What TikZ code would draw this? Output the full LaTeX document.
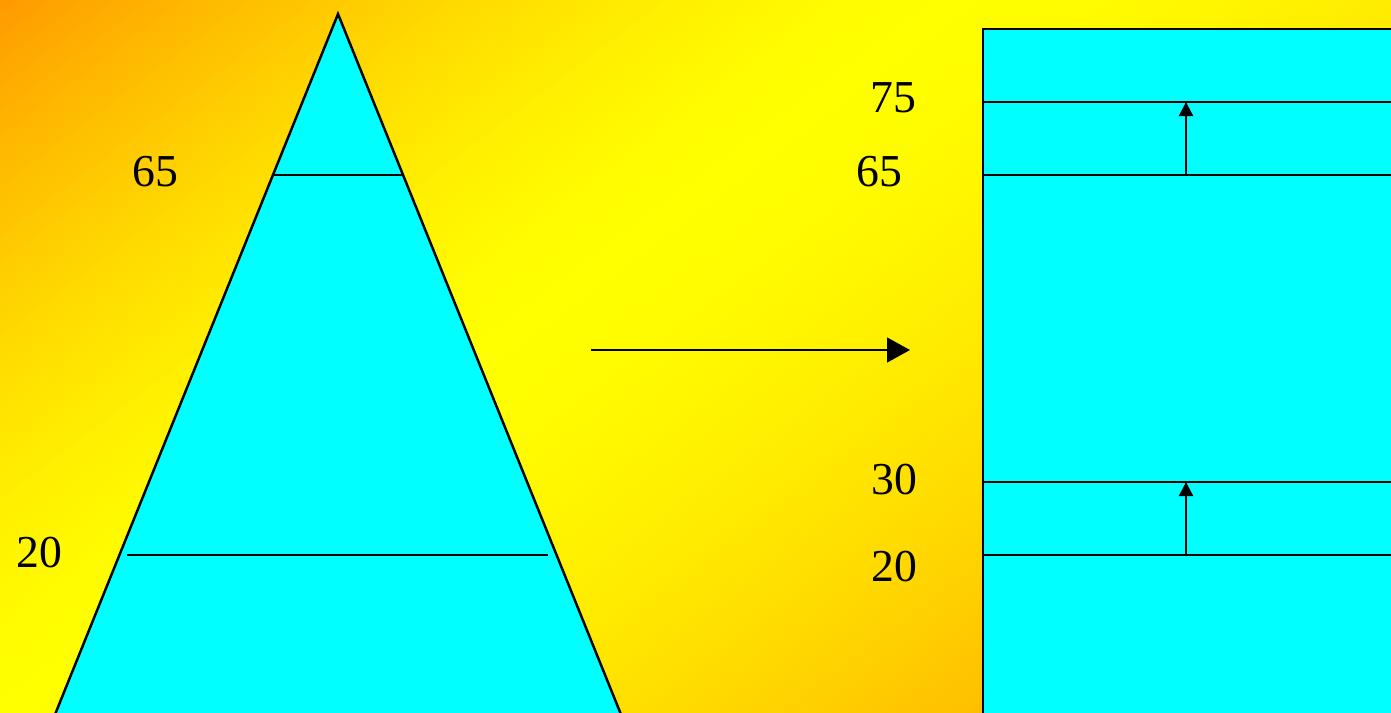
\documentclass[tikz,border=0pt]{standalone}
\usepackage{fontspec}
\setmainfont{Liberation Serif}
\usetikzlibrary{arrows.meta, positioning}
\definecolor{bgOrangeA}{RGB}{255,155,0}
\definecolor{bgOrangeB}{RGB}{255,190,0}
\definecolor{bgYellow}{RGB}{255,255,0}
\definecolor{layerCyan}{RGB}{0,255,255}

\begin{document}
\begin{tikzpicture}[
    x=0.1mm, y=-0.1mm,
    body/.style={fill=layerCyan, draw=black, line width=0.7pt},
    level/.style={draw=black, line width=0.6pt},
    lift/.style={-{Triangle[length=4pt, width=4pt]}, line width=0.6pt},
    shiftarr/.style={-{Triangle[length=6.5pt, width=7pt]}, line width=0.6pt},
    lbl/.style={font=\fontsize{13}{15}\selectfont, inner sep=0pt},
]
\useasboundingbox (0,0) rectangle (1391,712);
\begin{scope}
\clip (0,0) rectangle (1391,712);

% Background gradient (orange - yellow - orange, diagonal bands)
\fill[bgYellow] (0,0) rectangle (1391,712);
\foreach \s in {-600,-590,...,850} {
  \pgfmathsetmacro\frc{\s<0 ? min(1,abs(\s)/570) : min(1,abs(\s)/588)}
  \pgfmathsetmacro\mix{max(0,100-100*\frc*sqrt(\frc))}
  \pgfmathsetmacro\ya{719.5+1.25*\s}
  \pgfmathsetmacro\yb{719.5+1.25*(\s+11)}
  \ifdim\s pt<0pt
    \fill[bgYellow!\mix!bgOrangeA] (-10,\ya) -- (1400,\ya-1057.5) -- (1400,\yb-1057.5) -- (-10,\yb) -- cycle;
  \else
    \fill[bgYellow!\mix!bgOrangeB] (-10,\ya) -- (1400,\ya-1057.5) -- (1400,\yb-1057.5) -- (-10,\yb) -- cycle;
  \fi
}

% Pyramid
\coordinate (apex) at (338,14);
\coordinate (baseL) at (44.7,740);
\coordinate (baseR) at (631.3,740);
\filldraw[body] (apex) -- (baseL) -- (baseR) -- cycle;
\coordinate (p65l) at (273,175);
\coordinate (p65r) at (402,175);
\coordinate (p20l) at (127,555);
\coordinate (p20r) at (548,555);
\draw[level] (p65l) -- (p65r);
\draw[level] (p20l) -- (p20r);

% Column
\coordinate (colTL) at (983,29);
\coordinate (colBR) at (1420,740);
\filldraw[body] (colTL) rectangle (colBR);
\foreach \y/\name in {102/c75, 175/c65, 482/c30, 555/c20} {
  \coordinate (\name l) at (983,\y);
  \coordinate (\name r) at (1420,\y);
  \draw[level] (\name l) -- (\name r);
}
\coordinate (up65) at (1186,175);
\coordinate (up75) at (1186,102);
\coordinate (up20) at (1186,555);
\coordinate (up30) at (1186,482);
\draw[lift] (up65) -- (up75);
\draw[lift] (up20) -- (up30);

% Shift arrow
\coordinate (shiftA) at (591,350);
\coordinate (shiftB) at (910,350);
\draw[shiftarr] (shiftA) -- (shiftB);
\end{scope}

% Labels
\node[lbl] (l65) at (155,172) {65};
\node[lbl] (l20) at (39,553) {20};
\node[lbl] (r75) at (893,98) {75};
\node[lbl] (r65) at (879,172) {65};
\node[lbl] (r30) at (894,480) {30};
\node[lbl] (r20) at (894,567) {20};
\end{tikzpicture}
\end{document}
